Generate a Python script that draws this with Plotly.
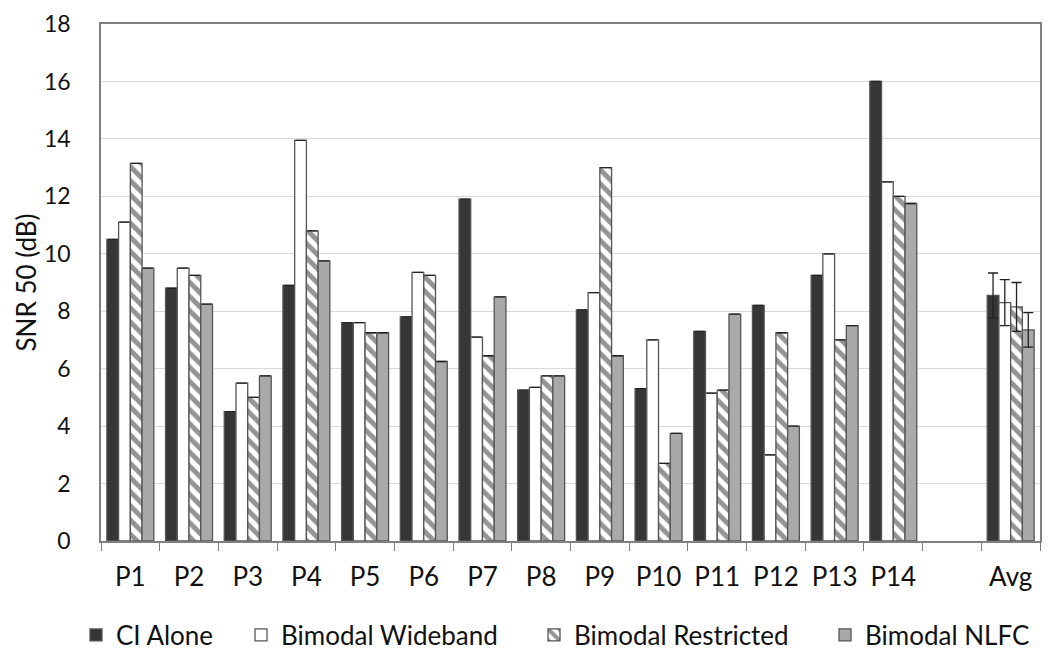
import plotly.graph_objects as go

categories = ["P1", "P2", "P3", "P4", "P5", "P6", "P7", "P8", "P9", "P10",
              "P11", "P12", "P13", "P14", " ", "Avg"]

ci_alone = [10.5, 8.8, 4.5, 8.9, 7.6, 7.8, 11.9, 5.25, 8.05, 5.3,
            7.3, 8.2, 9.25, 16.0, None, 8.55]
wideband = [11.1, 9.5, 5.5, 13.95, 7.6, 9.35, 7.1, 5.35, 8.65, 7.0,
            5.15, 3.0, 10.0, 12.5, None, 8.3]
restricted = [13.15, 9.25, 5.0, 10.8, 7.25, 9.25, 6.45, 5.75, 13.0, 2.7,
              5.25, 7.25, 7.0, 12.0, None, 8.15]
nlfc = [9.5, 8.25, 5.75, 9.75, 7.25, 6.25, 8.5, 5.75, 6.45, 3.75,
        7.9, 4.0, 7.5, 11.75, None, 7.35]

ci_err = [None] * 15 + [0.78]
wb_err = [None] * 15 + [0.8]
re_err = [None] * 15 + [0.85]
nl_err = [None] * 15 + [0.6]

font_family = "Lato, Open Sans, Arial, sans-serif"
edge = "#555555"
FS = 26
W, H = 1042, 643   # page body has an 8px margin

fig = go.Figure()

def add(name, vals, err, color, legend, pattern=None):
    marker = dict(color=color, line=dict(color=edge, width=1.3))
    if pattern is not None:
        marker["pattern"] = pattern
    fig.add_trace(go.Bar(
        x=categories, y=vals, name=name, marker=marker, legend=legend,
        error_y=dict(type="data", array=err, visible=True,
                     color="#222222", thickness=1.3, width=5),
    ))

add("CI Alone", ci_alone, ci_err, "#363636", "legend")
add("Bimodal Wideband", wideband, wb_err, "#ffffff", "legend2")
add("Bimodal Restricted", restricted, re_err, "#ffffff", "legend3",
    dict(shape="\\", fgcolor="#2a2a2a", bgcolor="#ffffff", size=10, solidity=0.5))
add("Bimodal NLFC", nlfc, nl_err, "#a9a9a9", "legend4")

def leg(xpix):
    return dict(orientation="h", xref="container", yref="container",
                x=(xpix - 8) / W, xanchor="left", y=(H - (635 - 8)) / H, yanchor="middle",
                font=dict(size=FS, family=font_family, color="#111111"),
                bgcolor="rgba(0,0,0,0)", borderwidth=0)

fig.update_layout(
    width=W, height=H,
    paper_bgcolor="white", plot_bgcolor="white",
    margin=dict(l=93, r=10, t=16, b=110, autoexpand=False),
    barmode="group", bargap=0.2, bargroupgap=0.0,
    font=dict(family=font_family, size=FS, color="#111111"),
    showlegend=True,
    legend=leg(76), legend2=leg(241), legend3=leg(534), legend4=leg(825),
)

fig.update_xaxes(
    type="category", categoryorder="array", categoryarray=categories,
    showline=True, linecolor="#808080", linewidth=1.5, mirror=True,
    ticks="outside", tickson="boundaries", ticklen=8, tickcolor="#808080",
    showgrid=False, ticklabelstandoff=12,
    tickfont=dict(size=FS, color="#111111"),
)
fig.update_yaxes(
    range=[0, 18], dtick=2, tick0=0,
    showline=True, linecolor="#808080", linewidth=1.5, mirror=True,
    showgrid=True, gridcolor="#d9d9d9", gridwidth=1.2,
    ticks="", ticklabelstandoff=24, ticklabeloverflow="allow",
    tickfont=dict(size=23, color="#111111"),
    title=dict(text="SNR 50 (dB)", font=dict(size=FS, color="#111111"), standoff=0),
    zeroline=False,
)

fig.write_html("out.html")
